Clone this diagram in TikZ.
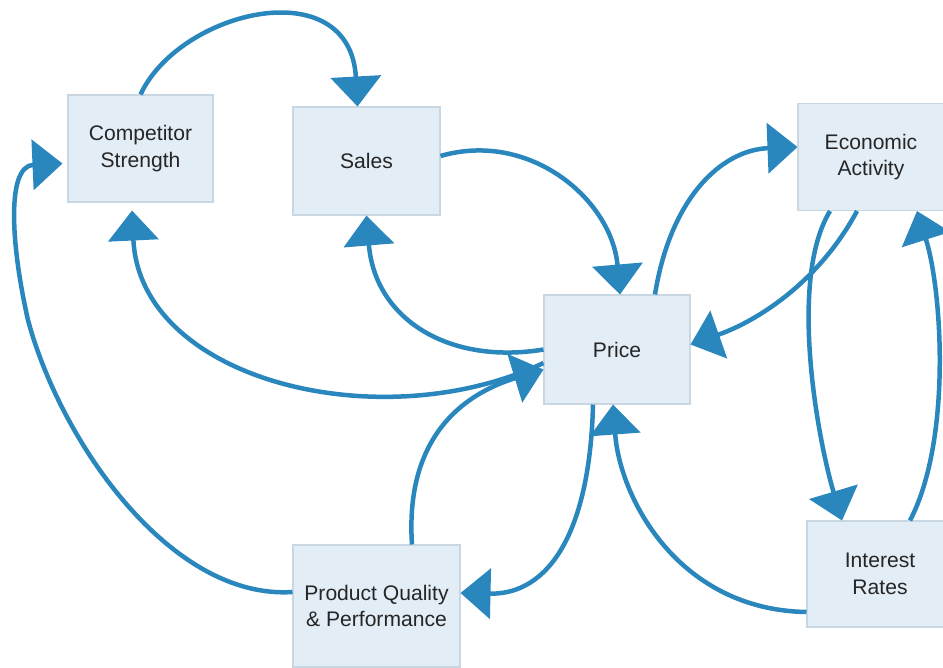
\documentclass[tikz,border=0pt]{standalone}
\usepackage{fontspec}
\setmainfont{Liberation Sans}
\usetikzlibrary{arrows.meta}
\definecolor{arr}{HTML}{2987BE}
\definecolor{boxfill}{HTML}{E2EDF6}
\definecolor{boxline}{HTML}{C9D7E3}
\begin{document}
\begin{tikzpicture}[x=0.02cm,y=-0.02cm,
 box/.style={draw=boxline, fill=boxfill, line width=0.6pt, align=center, inner sep=0pt, font=\fontsize{12}{15}\selectfont, text=black!85},
 link/.style={draw=arr, line width=0.09cm, -{Triangle[length=0.6cm,width=1.0cm]}}]
\fill[white] (0,0) rectangle (943,667);
\useasboundingbox (0,0) rectangle (943,667);

\node[box, minimum width=2.9cm, minimum height=2.14cm] (comp) at (140.5,148.5) {Competitor\\Strength};
\node[box, minimum width=2.94cm, minimum height=2.16cm] (sales) at (366.5,161) {Sales};
\node[box, minimum width=2.92cm, minimum height=2.18cm] (price) at (617,349.5) {Price};
\node[box, minimum width=2.92cm, minimum height=2.14cm] (econ) at (871,157) {Economic\\Activity};
\node[box, minimum width=2.92cm, minimum height=2.12cm] (ir) at (880,574) {Interest\\Rates};
\node[box, minimum width=3.34cm, minimum height=2.44cm] (pq) at (376.5,606) {Product Quality\\\& Performance};

\coordinate (m1) at (28,320);

\draw[link] (comp.north) .. controls (180,10) and (350,-30) .. ([xshift=-0.18cm]sales.north);
\draw[link] ([yshift=0.1cm]sales.east) .. controls (530,130) and (612,200) .. ([xshift=0.06cm]price.north);
\draw[link] ([xshift=0.76cm]price.north) .. controls (670,200) and (720,150) .. ([yshift=0.2cm]econ.west);
\draw[link] ([xshift=-0.28cm]econ.south) .. controls (820,280) and (760,320) .. ([yshift=0.1cm]price.east);
\draw[link] ([xshift=-0.82cm]econ.south) .. controls (788,280) and (818,440) .. ([xshift=-0.76cm]ir.north);
\draw[link] ([xshift=0.6cm]ir.north) .. controls (952,440) and (942,290) .. ([xshift=0.92cm]econ.south);
\draw[link] ([yshift=-0.76cm]ir.west) .. controls (680,610) and (620,500) .. ([xshift=-0.08cm]price.south);
\draw[link] ([xshift=-0.48cm]price.south) .. controls (590,530) and (550,595) .. ([yshift=0.26cm]pq.east);
\draw[link] ([xshift=0.71cm]pq.north) .. controls (405,440) and (460,395) .. ([yshift=-0.4cm]price.west);
\draw[link] ([yshift=-0.27cm]price.west) .. controls (380,440) and (140,380) .. ([xshift=-0.17cm,yshift=-0.16cm]comp.south);
\draw[link] (price.west) .. controls (450,365) and (375,320) .. (sales.south);
\draw[link] ([yshift=0.28cm]pq.west) .. controls (170,600) and (60,440) .. (m1) .. controls (12,250) and (5,166) .. ([xshift=-0.1cm,yshift=-0.3cm]comp.west);
\end{tikzpicture}
\end{document}
